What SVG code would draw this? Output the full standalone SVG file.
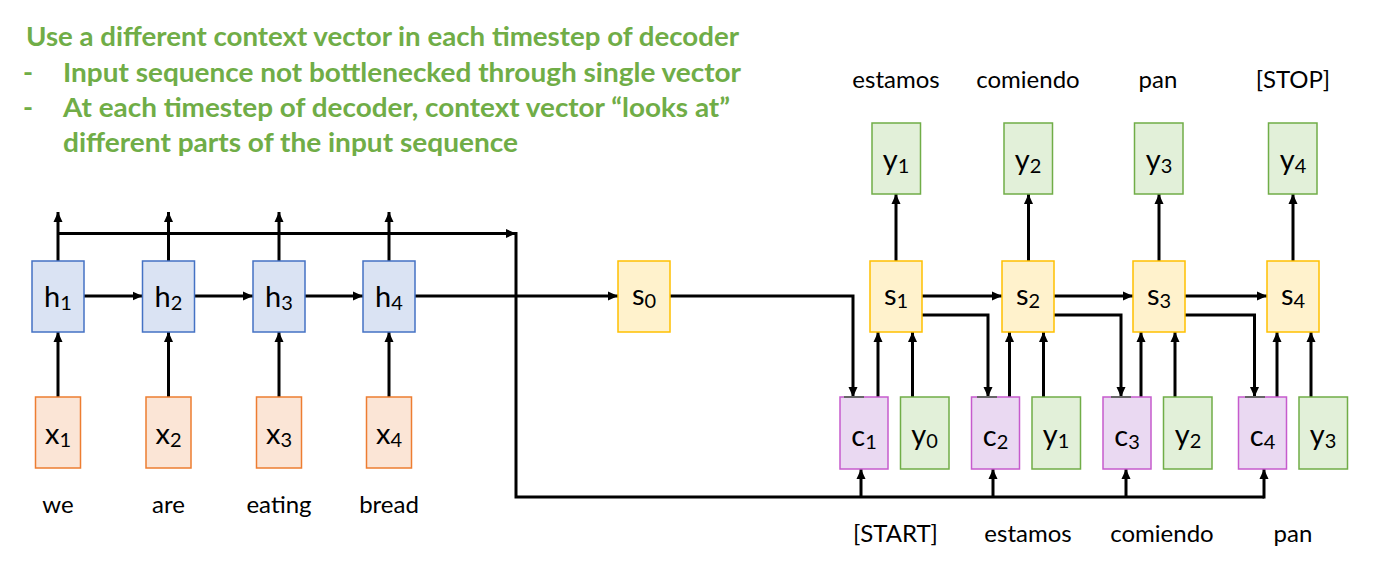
<svg xmlns="http://www.w3.org/2000/svg" width="1386" height="571" viewBox="0 0 1386 571">
<defs>
<marker id="ah" viewBox="0 0 10 10" refX="10" refY="5" markerWidth="10" markerHeight="10" markerUnits="userSpaceOnUse" orient="auto">
<path d="M0,0.5 L10,5 L0,9.5 z" fill="#000"/>
</marker>
<style>
.title{font-family:Lato,"Liberation Sans",sans-serif;font-weight:bold;font-size:27px;fill:#70AD47}
.lbl{font-family:Lato,"Liberation Sans",sans-serif;font-size:24px;fill:#000;text-anchor:middle}
.nt{font-family:Lato,"Liberation Sans",sans-serif;font-size:29px;fill:#000;text-anchor:middle}
.sub{font-size:20px}
.h{fill:#DAE3F3;stroke:#4472C4;stroke-width:1.5}
.x{fill:#FBE5D6;stroke:#ED7D31;stroke-width:1.5}
.s{fill:#FFF2CC;stroke:#FFC000;stroke-width:1.5}
.y{fill:#E2F0D9;stroke:#70AD47;stroke-width:1.5}
.c{fill:#EAD9F2;stroke:#C65BCD;stroke-width:1.5}
.ln{fill:none;stroke:#000;stroke-width:3}
.ar{fill:none;stroke:#000;stroke-width:3;marker-end:url(#ah)}
.tick{stroke:#666;stroke-width:2}
</style>
</defs>
<rect width="1386" height="571" fill="#fff"/>

<g id="title">
<text class="title" x="26" y="46" textLength="713" lengthAdjust="spacingAndGlyphs">Use a different context vector in each timestep of decoder</text>
<text class="title" x="23" y="81.5" font-weight="normal">-</text>
<text class="title" x="63" y="81.5" textLength="678" lengthAdjust="spacingAndGlyphs">Input sequence not bottlenecked through single vector</text>
<text class="title" x="23" y="117" font-weight="normal">-</text>
<text class="title" x="63" y="117" textLength="667" lengthAdjust="spacingAndGlyphs">At each timestep of decoder, context vector “looks at”</text>
<text class="title" x="63" y="152" textLength="455" lengthAdjust="spacingAndGlyphs">different parts of the input sequence</text>
</g>

<g id="connectors">
<path class="ar" d="M58,397 V332"/>
<path class="ar" d="M168.5,397 V332"/>
<path class="ar" d="M279,397 V332"/>
<path class="ar" d="M389,397 V332"/>
<path class="ar" d="M58,261 V212"/>
<path class="ar" d="M168.5,261 V212"/>
<path class="ar" d="M279,261 V212"/>
<path class="ar" d="M389,261 V212"/>
<path class="ar" d="M84,296 H142.5"/>
<path class="ar" d="M194.5,296 H253"/>
<path class="ar" d="M305,296 H363"/>
<path class="ar" d="M58,233.5 H516"/>
<path class="ln" d="M516,232 V497 H1264"/>
<path class="ar" d="M415,296 H618"/>
<path class="ar" d="M670,296 H853 V397"/>
<path class="ar" d="M861,497 V469"/>
<path class="ar" d="M993,497 V469"/>
<path class="ar" d="M1126,497 V469"/>
<path class="ar" d="M1264,498.5 V469"/>
<path class="ar" d="M878,397 V332"/>
<path class="ar" d="M1009.5,397 V332"/>
<path class="ar" d="M1141,397 V332"/>
<path class="ar" d="M1277,397 V332"/>
<path class="ar" d="M912.5,397 V332"/>
<path class="ar" d="M1043.5,397 V332"/>
<path class="ar" d="M1175,397 V332"/>
<path class="ar" d="M1311,397 V332"/>
<path class="ar" d="M922,296 H1002"/>
<path class="ar" d="M1054,296 H1133"/>
<path class="ar" d="M1185,296 H1267"/>
<path class="ar" d="M922,315 H988 V397"/>
<path class="ar" d="M1054,315 H1121 V397"/>
<path class="ar" d="M1185,315 H1254.5 V397"/>
<path class="ar" d="M896,261 V194"/>
<path class="ar" d="M1028.5,261 V194"/>
<path class="ar" d="M1159,261 V194"/>
<path class="ar" d="M1293,261 V194"/>
</g>

<g id="node-h1"><rect class="h" x="32" y="261" width="52" height="71"/><text class="nt" x="58" y="307">h<tspan class="sub" dy="3">1</tspan></text></g>
<g id="node-h2"><rect class="h" x="142.5" y="261" width="52" height="71"/><text class="nt" x="168.5" y="307">h<tspan class="sub" dy="3">2</tspan></text></g>
<g id="node-h3"><rect class="h" x="253" y="261" width="52" height="71"/><text class="nt" x="279" y="307">h<tspan class="sub" dy="3">3</tspan></text></g>
<g id="node-h4"><rect class="h" x="363" y="261" width="52" height="71"/><text class="nt" x="389" y="307">h<tspan class="sub" dy="3">4</tspan></text></g>

<g id="node-x1"><rect class="x" x="35.5" y="397" width="45" height="71"/><text class="nt" x="58" y="444">x<tspan class="sub" dy="3">1</tspan></text></g>
<g id="node-x2"><rect class="x" x="146" y="397" width="45" height="71"/><text class="nt" x="168.5" y="444">x<tspan class="sub" dy="3">2</tspan></text></g>
<g id="node-x3"><rect class="x" x="256.5" y="397" width="45" height="71"/><text class="nt" x="279" y="444">x<tspan class="sub" dy="3">3</tspan></text></g>
<g id="node-x4"><rect class="x" x="366.5" y="397" width="45" height="71"/><text class="nt" x="389" y="444">x<tspan class="sub" dy="3">4</tspan></text></g>

<g id="node-s0"><rect class="s" x="618" y="261" width="52" height="71"/><text class="nt" x="644" y="305">s<tspan class="sub" dy="3">0</tspan></text></g>
<g id="node-s1"><rect class="s" x="870" y="261" width="52" height="71"/><text class="nt" x="896" y="305">s<tspan class="sub" dy="3">1</tspan></text></g>
<g id="node-s2"><rect class="s" x="1002" y="261" width="52" height="71"/><text class="nt" x="1028" y="305">s<tspan class="sub" dy="3">2</tspan></text></g>
<g id="node-s3"><rect class="s" x="1133" y="261" width="52" height="71"/><text class="nt" x="1159" y="305">s<tspan class="sub" dy="3">3</tspan></text></g>
<g id="node-s4"><rect class="s" x="1267" y="261" width="52" height="71"/><text class="nt" x="1293" y="305">s<tspan class="sub" dy="3">4</tspan></text></g>

<g id="node-c1"><rect class="c" x="840" y="397" width="48" height="72"/><line class="tick" x1="844" y1="397" x2="864" y2="397"/><text class="nt" x="864" y="446">c<tspan class="sub" dy="3">1</tspan></text></g>
<g id="node-c2"><rect class="c" x="971.5" y="397" width="48" height="72"/><line class="tick" x1="977" y1="397" x2="997" y2="397"/><text class="nt" x="995.5" y="446">c<tspan class="sub" dy="3">2</tspan></text></g>
<g id="node-c3"><rect class="c" x="1103" y="397" width="48" height="72"/><line class="tick" x1="1111" y1="397" x2="1131" y2="397"/><text class="nt" x="1127" y="446">c<tspan class="sub" dy="3">3</tspan></text></g>
<g id="node-c4"><rect class="c" x="1238.5" y="397" width="48" height="72"/><line class="tick" x1="1245" y1="397" x2="1265" y2="397"/><text class="nt" x="1262.5" y="446">c<tspan class="sub" dy="3">4</tspan></text></g>

<g id="node-y0"><rect class="y" x="900.5" y="397" width="48.5" height="72"/><text class="nt" x="924.5" y="445">y<tspan class="sub" dy="3">0</tspan></text></g>
<g id="node-y1b"><rect class="y" x="1032" y="397" width="48.5" height="72"/><text class="nt" x="1056" y="445">y<tspan class="sub" dy="3">1</tspan></text></g>
<g id="node-y2b"><rect class="y" x="1163.5" y="397" width="48.5" height="72"/><text class="nt" x="1188" y="445">y<tspan class="sub" dy="3">2</tspan></text></g>
<g id="node-y3b"><rect class="y" x="1299" y="397" width="48.5" height="72"/><text class="nt" x="1323" y="445">y<tspan class="sub" dy="3">3</tspan></text></g>

<g id="node-y1"><rect class="y" x="872" y="123" width="48.5" height="71"/><text class="nt" x="896" y="170">y<tspan class="sub" dy="3">1</tspan></text></g>
<g id="node-y2"><rect class="y" x="1004" y="123" width="48.5" height="71"/><text class="nt" x="1028" y="170">y<tspan class="sub" dy="3">2</tspan></text></g>
<g id="node-y3"><rect class="y" x="1134.5" y="123" width="48.5" height="71"/><text class="nt" x="1159" y="170">y<tspan class="sub" dy="3">3</tspan></text></g>
<g id="node-y4"><rect class="y" x="1268.5" y="123" width="48.5" height="71"/><text class="nt" x="1293" y="170">y<tspan class="sub" dy="3">4</tspan></text></g>

<g id="labels">
<text class="lbl" x="58" y="513">we</text>
<text class="lbl" x="168.5" y="513">are</text>
<text class="lbl" x="279" y="513">eating</text>
<text class="lbl" x="389" y="513">bread</text>
<text class="lbl" x="896" y="88">estamos</text>
<text class="lbl" x="1028" y="88">comiendo</text>
<text class="lbl" x="1158" y="88">pan</text>
<text class="lbl" x="1293" y="88">[STOP]</text>
<text class="lbl" x="895.5" y="541.5">[START]</text>
<text class="lbl" x="1028" y="541.5">estamos</text>
<text class="lbl" x="1162" y="541.5">comiendo</text>
<text class="lbl" x="1293" y="541.5">pan</text>
</g>
</svg>
